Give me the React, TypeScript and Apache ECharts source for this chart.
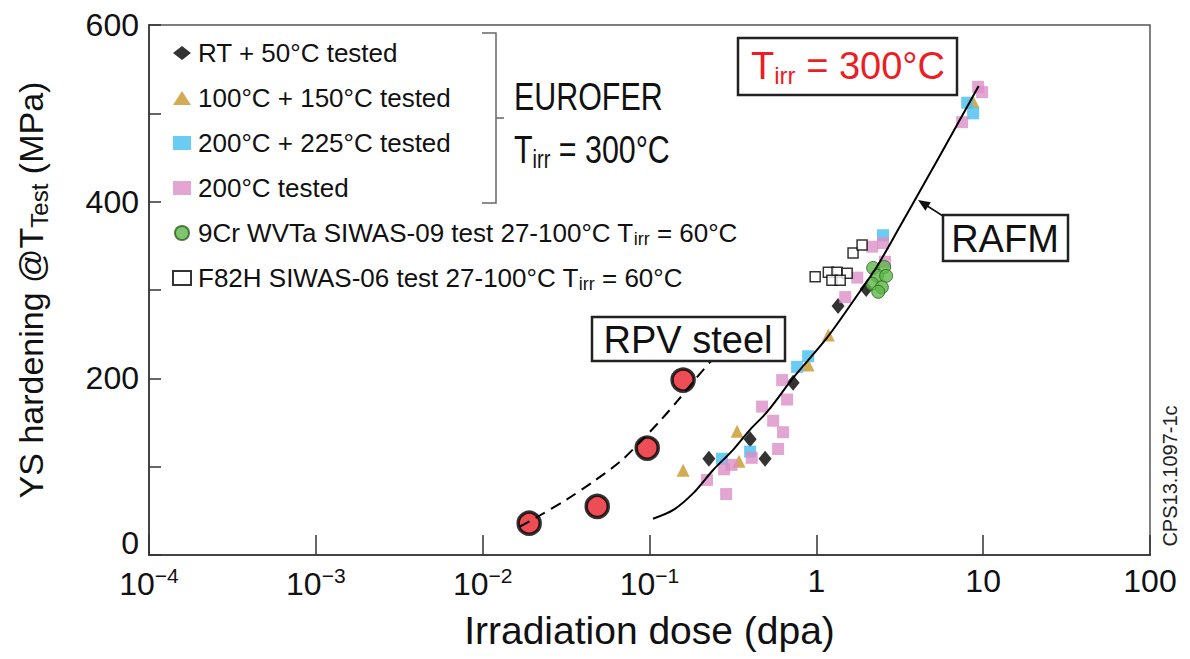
import React, { useEffect, useRef } from "react";
import * as echarts from "echarts";

const FS = '"Liberation Sans", Arial, sans-serif';

// ---- data (dose in dpa, YS hardening in MPa) ----
const rtTested = [[0.227, 109], [0.401, 131], [0.493, 109], [0.726, 195], [1.35, 282], [1.99, 301]];
const t100Tested = [[0.159, 96], [0.335, 140], [0.344, 106], [0.893, 215], [1.18, 249], [8.71, 513]];
const t200_225Tested = [[0.272, 109], [0.401, 117], [0.767, 213], [0.893, 225], [2.51, 362], [8.02, 512], [8.71, 500]];
const t200Tested = [
  [0.221, 85], [0.288, 69], [0.28, 97], [0.31, 102], [0.41, 110], [0.473, 168], [0.551, 152],
  [0.59, 120], [0.632, 139], [0.668, 176], [0.624, 198], [1.49, 292], [1.76, 314], [2.16, 349],
  [2.51, 353], [2.58, 332], [7.48, 490], [9.33, 530], [9.86, 524],
];
const siwas09 = [[2.19, 325], [2.55, 326], [2.32, 316], [2.62, 316], [2.16, 307], [2.47, 303], [2.35, 298]];
const siwas06 = [[0.984, 315], [1.18, 320], [1.33, 320], [1.53, 319], [1.24, 311], [1.39, 311], [1.66, 342], [1.88, 351]];
const rpvPoints = [[0.019, 36], [0.0486, 55], [0.0969, 121], [0.159, 198]];
const rpvCurve = [[0.0167, 32], [0.0221, 45], [0.032, 63], [0.046, 83], [0.067, 106], [0.088, 128], [0.116, 152], [0.148, 175], [0.19, 200], [0.24, 222]];
const rafmCurve = [[0.105, 41], [0.139, 51], [0.183, 70], [0.24, 96], [0.317, 119], [0.401, 142], [0.507, 162], [0.73, 201], [1.16, 246], [1.82, 298], [2.3, 326], [3.15, 371], [5.5, 452], [9.4, 531]];

const legendNames = [
  "RT + 50°C tested",
  "100°C + 150°C tested",
  "200°C + 225°C tested",
  "200°C tested",
  "9Cr WVTa SIWAS-09 test 27-100°C Tirr = 60°C",
  "F82H SIWAS-06 test 27-100°C Tirr = 60°C",
];
const legendRich: Record<string, string> = {
  "9Cr WVTa SIWAS-09 test 27-100°C Tirr = 60°C": "9Cr WVTa SIWAS-09 test 27-100°C T{s|irr} = 60°C",
  "F82H SIWAS-06 test 27-100°C Tirr = 60°C": "F82H SIWAS-06 test 27-100°C T{s|irr} = 60°C",
};

export default function App() {
  const ref = useRef<HTMLDivElement>(null);
  useEffect(() => {
    if (!ref.current) return;
    const chart = echarts.init(ref.current, null, { renderer: "svg" });
    const scatter = (name: string, data: number[][], symbol: string, size: any, itemStyle: any) => ({
      name, type: "scatter", data, symbol, symbolSize: size, itemStyle, z: 3,
    });
    chart.setOption({
      animation: false,
      backgroundColor: "#fff",
      grid: { left: 149, right: 40, top: 25, bottom: 104, show: true, borderColor: "#555", borderWidth: 1.5, backgroundColor: "transparent" },
      legend: {
        data: legendNames,
        orient: "vertical",
        left: 167,
        top: 33,
        itemWidth: 18,
        itemHeight: 14,
        itemGap: 15,
        textStyle: {
          fontFamily: FS, fontSize: 26, color: "#111", lineHeight: 30, padding: [0, 0, 0, 2],
          rich: { s: { fontFamily: FS, fontSize: 18, padding: [12, 0, 0, 0], color: "#111" } },
        },
        formatter: (n: string) => legendRich[n] || n,
        selectedMode: false,
      },
      xAxis: {
        type: "log",
        logBase: 10,
        min: 0.0001,
        max: 100,
        interval: 1,
        name: "Irradiation dose (dpa)",
        nameLocation: "middle",
        nameGap: 56,
        nameTextStyle: { fontFamily: FS, fontSize: 39, color: "#111" },
        axisLine: { show: true, lineStyle: { color: "#444", width: 2 } },
        axisTick: { show: true, inside: true, length: 20, lineStyle: { color: "#333", width: 1.5 } },
        splitLine: { show: false },
        axisLabel: {
          margin: 10,
          fontFamily: FS,
          fontSize: 32,
          color: "#111",
          formatter: (v: number) => {
            const e = Math.round(Math.log10(v));
            if (e >= 0) return String(Math.round(Math.pow(10, e)));
            return "10{sup|−" + -e + "}";
          },
          rich: { sup: { fontFamily: FS, fontSize: 21, padding: [0, 0, 16, 0], color: "#111" } },
        },
      },
      yAxis: {
        type: "value",
        min: 0,
        max: 600,
        interval: 200,
        name: "YS hardening @T{sub|Test} (MPa)",
        nameLocation: "middle",
        nameGap: 98,
        nameRotate: 90,
        nameTextStyle: {
          fontFamily: FS, fontSize: 34, color: "#111",
          rich: { sub: { fontFamily: FS, fontSize: 24, padding: [16, 0, 0, 0], color: "#111" } },
        },
        axisLine: { show: true, lineStyle: { color: "#444", width: 2 } },
        axisTick: { show: true, inside: true, length: 12, lineStyle: { color: "#333", width: 1.5 } },
        minorTick: { show: true, splitNumber: 2, length: 12, lineStyle: { color: "#333", width: 1.5 } },
        splitLine: { show: false },
        axisLabel: {
          margin: 10, fontFamily: FS, fontSize: 32, color: "#111",
          formatter: (v: number) => (v === 0 ? "{z|0}" : String(v)),
          rich: { z: { fontFamily: FS, fontSize: 32, color: "#111", padding: [0, 0, 24, 0] } },
        },
      },
      series: [
        scatter(legendNames[0], rtTested, "diamond", [13, 16], { color: "#000" }),
        scatter(legendNames[1], t100Tested, "triangle", 13, { color: "#c9962b" }),
        scatter(legendNames[2], t200_225Tested, "rect", 12, { color: "#45bff0" }),
        scatter(legendNames[3], t200Tested, "rect", 12, { color: "#dc8fc6" }),
        scatter(legendNames[4], siwas09, "circle", 13, { color: "#5cb848", borderColor: "#2f5e22", borderWidth: 1 }),
        scatter(legendNames[5], siwas06, "rect", 10, { color: "#fff", borderColor: "#000", borderWidth: 1.5 }),
        {
          name: "RPV steel data", type: "scatter", data: rpvPoints, symbol: "circle", symbolSize: 22,
          itemStyle: { color: "#e8202a", borderColor: "#000", borderWidth: 3.5 }, z: 3,
        },
        {
          name: "RPV steel", type: "line", data: rpvCurve, smooth: 0.3, showSymbol: false, symbol: "none",
          lineStyle: { color: "#000", width: 2, type: [11, 7] }, z: 4,
        },
        {
          name: "RAFM", type: "line", data: rafmCurve, smooth: 0.3, showSymbol: false, symbol: "none",
          lineStyle: { color: "#000", width: 2 }, z: 4,
        },
      ],
      graphic: [
        { type: "polyline", z: 10, shape: { points: [[482, 33], [496, 33], [496, 203], [482, 203]] }, style: { stroke: "#666", lineWidth: 1.5, fill: null } },
        { type: "line", z: 10, shape: { x1: 496, y1: 118, x2: 504, y2: 118 }, style: { stroke: "#666", lineWidth: 1.5 } },
        { type: "text", z: 10, x: 514, y: 97, scaleX: 0.8, style: { text: "EUROFER", fontFamily: FS, fontSize: 38, fill: "#111", verticalAlign: "middle" } },
        {
          type: "text", z: 10, x: 514, y: 150, scaleX: 0.8,
          style: {
            text: "{a|T}{s|irr}{a| = 300°C}", verticalAlign: "middle",
            rich: { a: { fontFamily: FS, fontSize: 38, fill: "#111", color: "#111" }, s: { fontFamily: FS, fontSize: 25, padding: [20, 0, 0, 0], fill: "#111", color: "#111" } },
          },
        },
        { type: "rect", z: 10, shape: { x: 738, y: 38, width: 219, height: 57 }, style: { fill: "#fff", stroke: "#222", lineWidth: 2.5 } },
        {
          type: "text", z: 11, x: 848, y: 66,
          style: {
            text: "{a|T}{s|irr}{a| = 300°C}", align: "center", verticalAlign: "middle",
            rich: { a: { fontFamily: FS, fontSize: 38, fill: "#ee1c25", color: "#ee1c25" }, s: { fontFamily: FS, fontSize: 24, padding: [18, 0, 0, 0], fill: "#ee1c25", color: "#ee1c25" } },
          },
        },
        { type: "rect", z: 10, shape: { x: 592, y: 317, width: 193, height: 44 }, style: { fill: "#fff", stroke: "#222", lineWidth: 2.5 } },
        { type: "text", z: 11, x: 688, y: 340, style: { text: "RPV steel", fontFamily: FS, fontSize: 38, fill: "#111", align: "center", verticalAlign: "middle" } },
        { type: "rect", z: 10, shape: { x: 943, y: 215, width: 125, height: 46 }, style: { fill: "#fff", stroke: "#222", lineWidth: 2.5 } },
        { type: "text", z: 11, x: 1005, y: 239, style: { text: "RAFM", fontFamily: FS, fontSize: 38, fill: "#111", align: "center", verticalAlign: "middle" } },
        { type: "line", z: 10, shape: { x1: 943, y1: 216, x2: 925, y2: 204.5 }, style: { stroke: "#111", lineWidth: 1.5 } },
        { type: "polygon", z: 10, shape: { points: [[918, 200], [925.4, 210.7], [930.8, 202.3]] }, style: { fill: "#111" } },
        { type: "text", z: 10, x: 1170, y: 476, rotation: Math.PI / 2, style: { text: "CPS13.1097-1c", fontFamily: FS, fontSize: 20, fill: "#222", align: "center", verticalAlign: "middle" } },
      ],
    });
    return () => chart.dispose();
  }, []);
  return <div ref={ref} style={{ position: "fixed", left: 0, top: 0, width: 1190, height: 659, background: "#fff" }} />;
}
